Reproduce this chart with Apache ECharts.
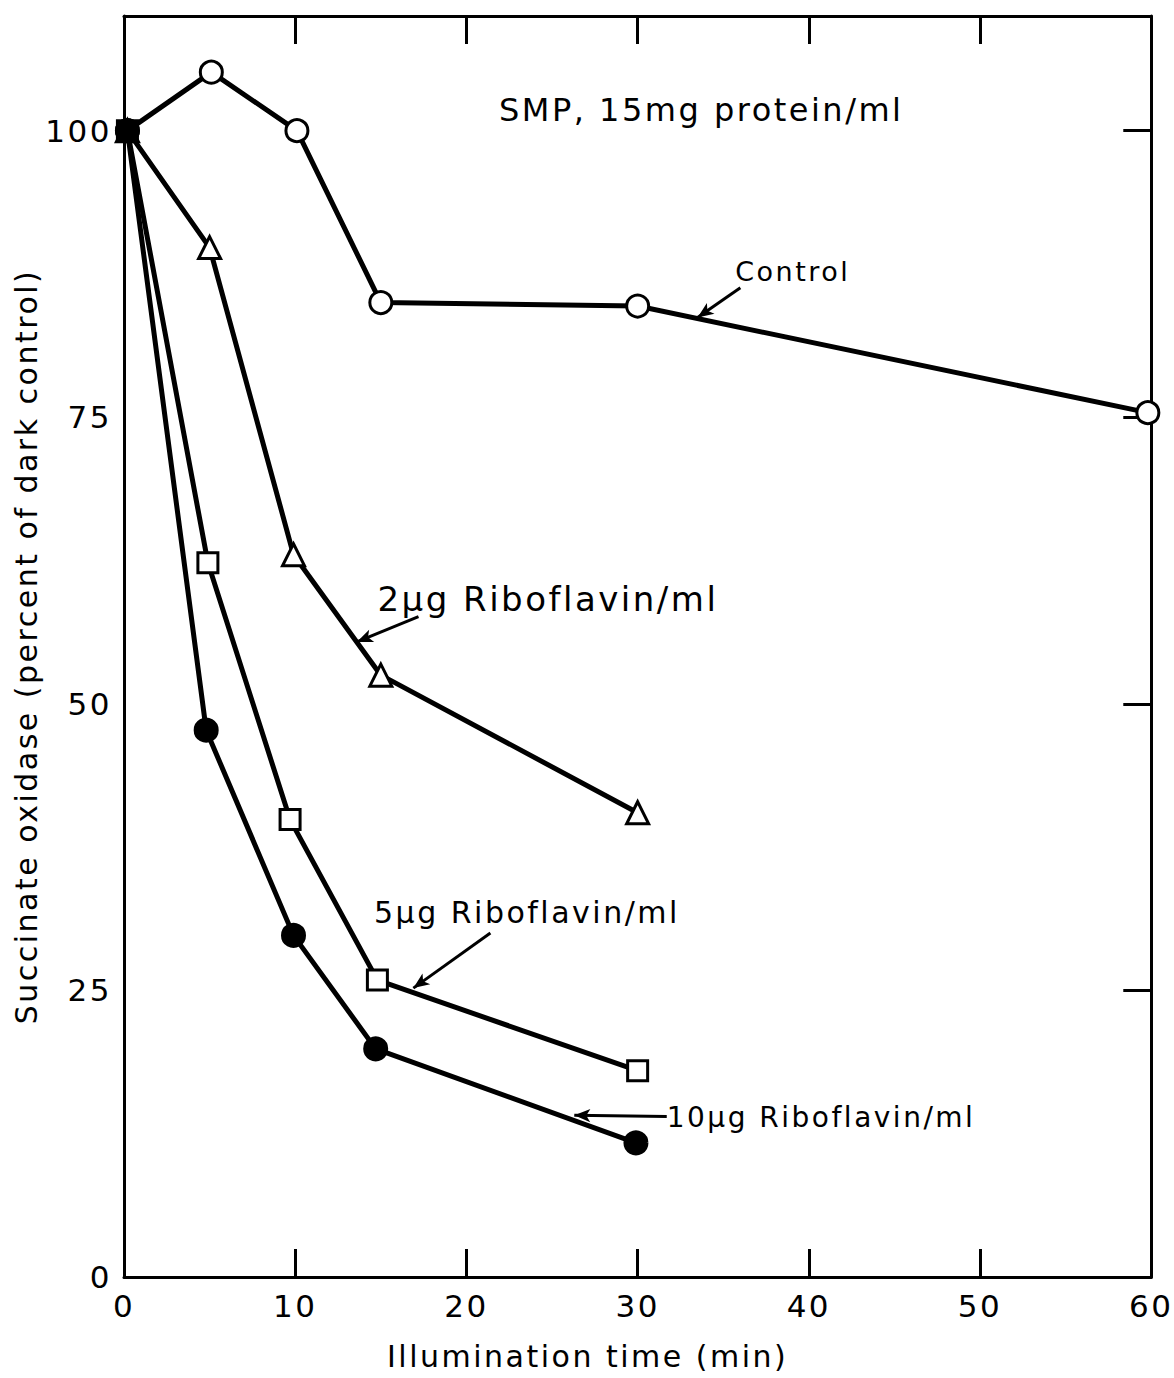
<!DOCTYPE html>
<html><head><meta charset="utf-8">
<script src="https://cdn.jsdelivr.net/npm/echarts@6/dist/echarts.min.js"></script>
<style>
html,body{margin:0;padding:0;background:#fff}
#chart{width:1174px;height:1378px}
#chart text{letter-spacing:2.5px}
</style></head><body><div id="chart"></div>
<script>
// Illumination time (min) and succinate oxidase activity (% of dark control)
const timeControl = [0.2, 5.1, 10.1, 15.0, 30.0, 59.8];
const activityControl = [100, 105.1, 100, 85.0, 84.7, 75.4];

const timeRibo2 = [0.2, 5.0, 9.9, 15.0, 30.0];
const activityRibo2 = [100, 89.8, 63.0, 52.5, 40.5];

const timeRibo5 = [0.2, 4.9, 9.7, 14.8, 30.0];
const activityRibo5 = [100, 62.3, 39.9, 25.9, 18.0];

const timeRibo10 = [0.2, 4.8, 9.9, 14.7, 29.9];
const activityRibo10 = [100, 47.7, 29.8, 19.9, 11.7];

const xTicks = [0, 10, 20, 30, 40, 50, 60];
const yTicks = [0, 25, 50, 75, 100];

const seriesNames = ['Control', '2\u03bcg Riboflavin/ml', '5\u03bcg Riboflavin/ml', '10\u03bcg Riboflavin/ml'];
const headerText = 'SMP, 15mg protein/ml';

// label anchors (data units) and their pointer arrows
const notes = [
  { text: headerText, at: [21.9, 101.8], size: 32 },
  { text: seriesNames[0], at: [35.7, 87.7], size: 27, from: [36.0, 86.3], to: [33.5, 83.7] },
  { text: seriesNames[1], at: [14.8, 59.1], size: 34, from: [17.2, 57.6], to: [13.6, 55.4] },
  { text: seriesNames[2], at: [14.6, 31.8], size: 30, from: [21.4, 30.0], to: [16.9, 25.2] },
  { text: seriesNames[3], at: [31.7, 13.9], size: 28, from: [31.7, 14.0], to: [26.3, 14.1] }
];

const FONT = '"DejaVu Sans", "Liberation Sans", sans-serif';
const pair = (xs, ys) => xs.map((x, i) => [x, ys[i]]);

const chart = echarts.init(document.getElementById('chart'), null, { renderer: 'svg' });

const axisLine = { show: true, onZero: false, lineStyle: { color: '#000', width: 3 } };
const tick = { show: true, inside: true, length: 28, lineStyle: { color: '#000', width: 3 } };

function lineSeries(name, data, symbol, filled, size) {
  return {
    name, type: 'line', data, symbol, symbolSize: size,
    showAllSymbol: true,
    lineStyle: { color: '#000', width: 5 },
    itemStyle: { color: filled ? '#000' : '#fff', borderColor: '#000', borderWidth: 3 },
    emphasis: { disabled: true },
    animation: false, z: 3
  };
}

const arrows = notes.filter(n => n.from).map(n => [{ coord: n.from }, { coord: n.to }]);

const series = [
  lineSeries(seriesNames[0], pair(timeControl, activityControl), 'circle', false, 22),
  lineSeries(seriesNames[1], pair(timeRibo2, activityRibo2), 'triangle', false, 22),
  lineSeries(seriesNames[2], pair(timeRibo5, activityRibo5), 'rect', false, 20),
  lineSeries(seriesNames[3], pair(timeRibo10, activityRibo10), 'circle', true, 22)
];
series[0].markLine = {
  silent: true, animation: false,
  symbol: ['none', 'arrow'], symbolSize: [10, 16],
  label: { show: false },
  lineStyle: { color: '#000', width: 3, type: 'solid' },
  data: arrows
};

chart.setOption({
  backgroundColor: '#fff',
  animation: false,
  grid: { left: 124, right: 19, top: 16, bottom: 101, containLabel: false },
  xAxis: [
    {
      type: 'value', min: xTicks[0], max: xTicks[xTicks.length - 1], interval: 10,
      position: 'bottom',
      axisLine, axisTick: tick, splitLine: { show: false },
      axisLabel: { color: '#000', fontFamily: FONT, fontSize: 31, margin: 13 },
      name: 'Illumination time (min)', nameLocation: 'middle', nameGap: 64,
      nameTextStyle: { color: '#000', fontFamily: FONT, fontSize: 30, padding: [0, 100, 0, 0] }
    },
    {
      type: 'value', min: xTicks[0], max: xTicks[xTicks.length - 1], interval: 10,
      position: 'top',
      axisLine, axisTick: tick, axisLabel: { show: false }, splitLine: { show: false }
    }
  ],
  yAxis: [
    {
      type: 'value', min: 0, max: 110, interval: 25,
      position: 'left',
      axisLine, axisTick: { show: false }, splitLine: { show: false },
      axisLabel: {
        color: '#000', fontFamily: FONT, fontSize: 31, margin: 12,
        formatter: v => (yTicks.includes(v) ? String(v) : '')
      },
      name: 'Succinate oxidase (percent of dark control)', nameLocation: 'middle', nameGap: 80,
      nameTextStyle: { color: '#000', fontFamily: FONT, fontSize: 30 }
    },
    {
      type: 'value', min: 0, max: 110, interval: 25,
      position: 'right',
      axisLine, axisTick: tick, axisLabel: { show: false }, splitLine: { show: false }
    }
  ],
  series
});

// place the annotation texts from their data-space anchors
const graphics = notes.map(n => {
  const p = chart.convertToPixel({ gridIndex: 0 }, n.at);
  return {
    type: 'text', x: p[0], y: p[1], silent: true, z: 10,
    style: { text: n.text, fill: '#000', font: n.size + 'px ' + FONT, textAlign: 'left', textVerticalAlign: 'middle' }
  };
});
chart.setOption({ graphic: graphics });
</script></body></html>
